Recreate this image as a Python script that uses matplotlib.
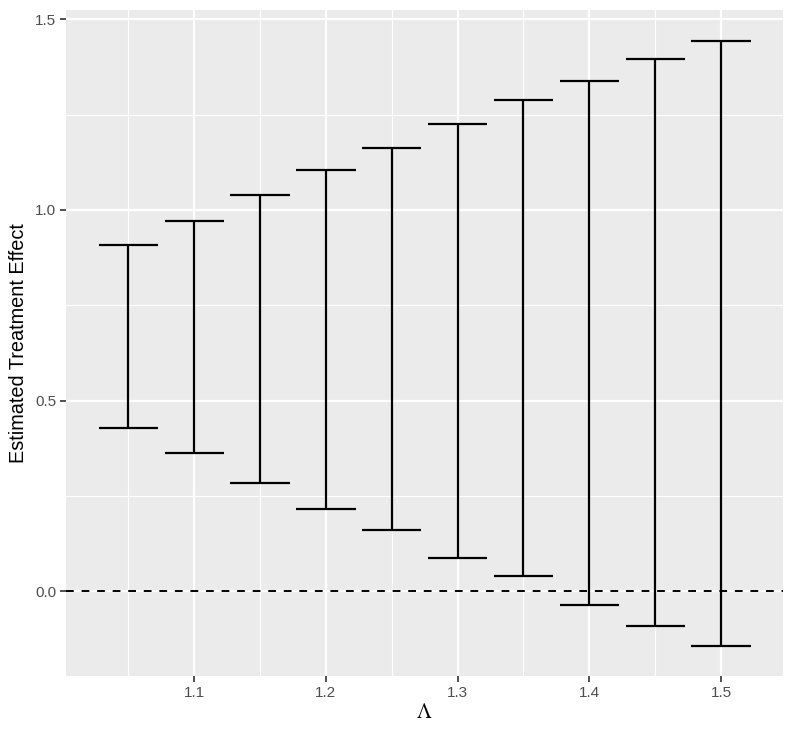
import numpy as np
import matplotlib
matplotlib.use("Agg")
from matplotlib import pyplot as plt

# sensitivity parameter and bounds of the estimated effect
lam = [1.05, 1.10, 1.15, 1.20, 1.25, 1.30, 1.35, 1.40, 1.45, 1.50]
lower = [0.427, 0.362, 0.283, 0.215, 0.160, 0.087, 0.039, -0.036, -0.091, -0.143]
upper = [0.907, 0.970, 1.038, 1.104, 1.162, 1.225, 1.288, 1.337, 1.396, 1.443]
xticks = [1.1, 1.2, 1.3, 1.4, 1.5]
yticks = [0.0, 0.5, 1.0, 1.5]

plt.rcParams['font.family'] = ['Liberation Sans', 'DejaVu Sans']
plt.rcParams['mathtext.fontset'] = 'stix'

fig = plt.figure(figsize=(7.93, 7.34), dpi=100)
ax = fig.add_axes([0.0832, 0.079, 0.9038, 0.9074])
ax.set_facecolor('#EBEBEB')

# minor + major grid, ggplot style
for x in np.arange(1.05, 1.55, 0.1):
    ax.axvline(x, color='white', lw=0.8, zorder=0)
for y in [0.25, 0.75, 1.25]:
    ax.axhline(y, color='white', lw=0.8, zorder=0)
for x in xticks:
    ax.axvline(x, color='white', lw=1.6, zorder=0)
for y in yticks:
    ax.axhline(y, color='white', lw=1.6, zorder=0)

ax.axhline(0, color='black', lw=1.4, ls=(0, (4, 4)), zorder=2)

lam = np.array(lam)
lower = np.array(lower)
upper = np.array(upper)
mid = (lower + upper) / 2
ax.errorbar(lam, mid, yerr=[mid - lower, upper - mid], fmt='none',
            ecolor='black', elinewidth=1.6, capsize=0, zorder=3)
half = 0.0225
ax.hlines(lower, lam - half, lam + half, color='black', lw=1.6, zorder=3)
ax.hlines(upper, lam - half, lam + half, color='black', lw=1.6, zorder=3)

ax.set_xlim(1.0027, 1.5468)
ax.set_ylim(-0.222, 1.524)
ax.set_xticks(xticks)
ax.set_xticklabels([f'{v:.1f}' for v in xticks])
ax.set_yticks(yticks)
ax.set_yticklabels([f'{v:.1f}' for v in yticks])
ax.tick_params(axis='both', colors='#333333', labelcolor='#4D4D4D',
               labelsize=11, length=4, width=1.2, pad=3)
for s in ax.spines.values():
    s.set_visible(False)

ax.set_xlabel(r'$\Lambda$', fontsize=15, labelpad=2)
ax.set_ylabel('Estimated Treatment Effect', fontsize=14.3, labelpad=5)

plt.savefig('out.png', dpi=100)
